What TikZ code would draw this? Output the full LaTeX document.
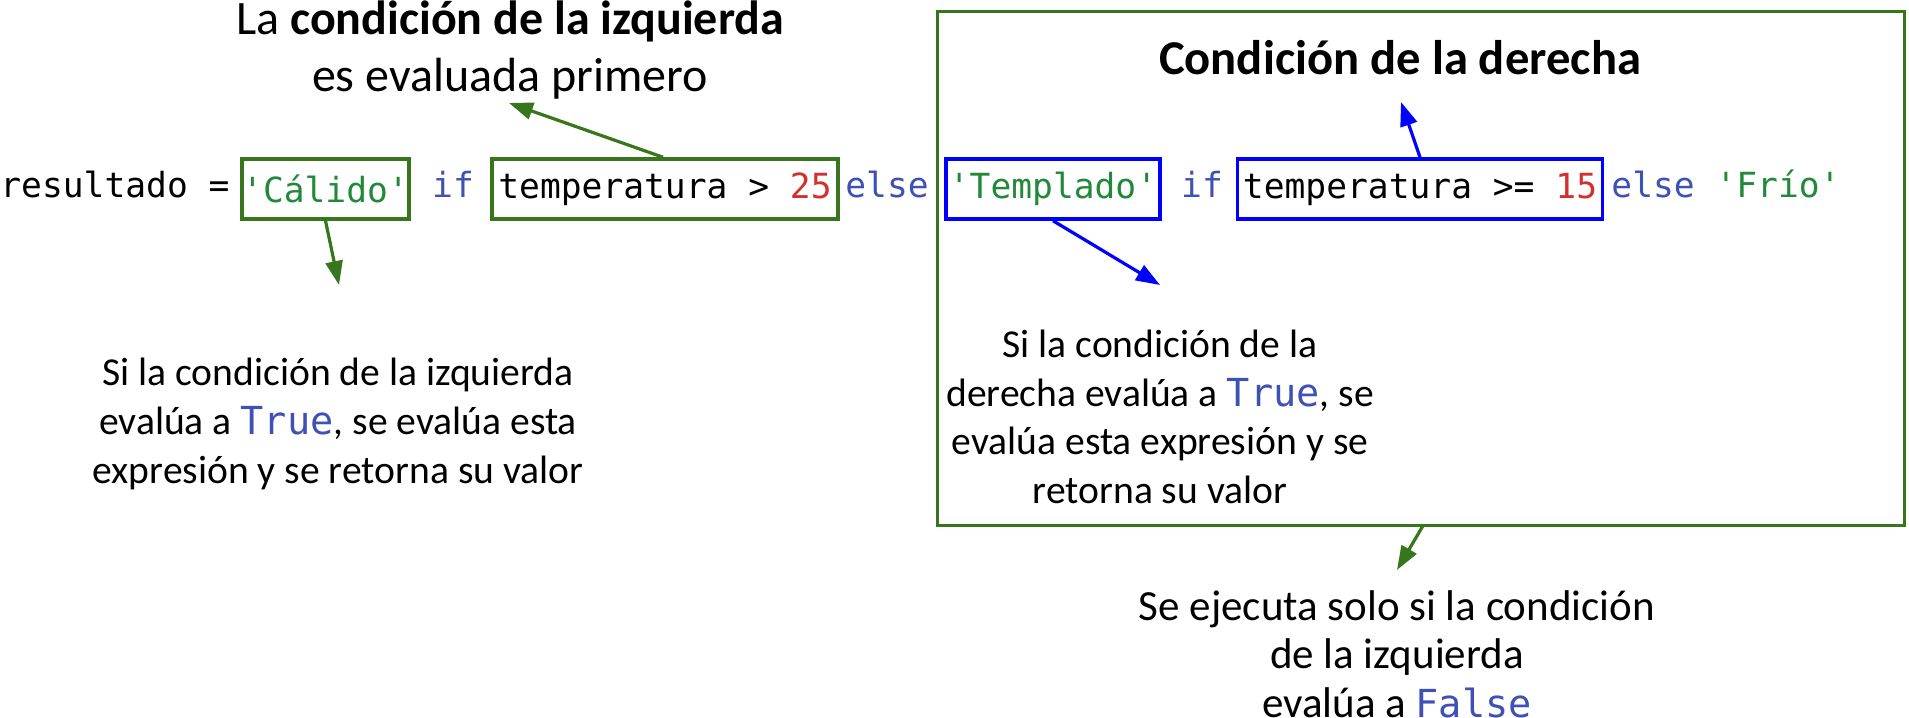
\documentclass[tikz,border=0pt]{standalone}
\usepackage{fontspec}
\setmainfont{Carlito}
\setmonofont{DejaVu Sans Mono}
\usetikzlibrary{arrows.meta}
\definecolor{boxgreen}{HTML}{38761D}
\definecolor{boxblue}{HTML}{0000FF}
\definecolor{strgreen}{HTML}{22883A}
\definecolor{kwblue}{HTML}{3F51B5}
\definecolor{numred}{HTML}{D32F2F}
\newcommand{\codefont}{\ttfamily\fontsize{17.3}{20}\selectfont}
\newcommand{\kw}[1]{\textcolor{kwblue}{#1}}
\newcommand{\str}[1]{\textcolor{strgreen}{#1}}
\newcommand{\num}[1]{\textcolor{numred}{#1}}
\newcommand{\pyval}[1]{{\ttfamily\fontsize{19.3}{20}\selectfont\textcolor{kwblue}{#1}}}
\tikzset{
  codetxt/.style={font=\codefont, inner sep=0pt, anchor=base},
  gbox/.style={draw=boxgreen, line width=1.75pt, minimum height=30pt, inner sep=0pt, font=\codefont},
  bbox/.style={draw=boxblue, line width=1.75pt, minimum height=30pt, inner sep=0pt, font=\codefont},
  garrow/.style={draw=boxgreen, line width=1.6pt, -{Triangle[length=12pt,width=8.5pt]}},
  barrow/.style={draw=boxblue, line width=1.6pt, -{Triangle[length=12pt,width=8.5pt]}},
  prose/.style={align=center, inner sep=0pt, font=\fontsize{19.8}{24.3}\selectfont},
}
\begin{document}
\begin{tikzpicture}[x=0.5pt,y=-0.5pt]
\useasboundingbox (0,0) rectangle (1909,717);
% big outer box
\node[draw=boxgreen, line width=1.5pt, minimum width=483.5pt, minimum height=256.5pt, inner sep=0pt] (bigbox) at (1420.5,268.5) {};
% code line
\node[codetxt, anchor=base west] (res) at (0,197) {resultado =};
\node[gbox, minimum width=82.5pt] (calido) at (325.5,189) {\str{'Cálido'}};
\node[codetxt] (if1) at (453,197) {\kw{if}};
\node[gbox, minimum width=173pt] (temp1) at (665,189) {temperatura > \num{25}};
\node[codetxt] (else1) at (887,197) {\kw{else}};
\node[bbox, minimum width=107pt] (templado) at (1053,189) {\str{'Templado'}};
\node[codetxt] (if2) at (1202,197) {\kw{if}};
\node[bbox, minimum width=182.5pt] (temp2) at (1420,189) {temperatura >= \num{15}};
\node[codetxt, anchor=base west] (else2) at (1611,197) {\kw{else} \str{'Frío'}};
% titles
\node[align=center, inner sep=0pt, font=\fontsize{24}{28.5}\selectfont] (title1) at (510,50) {La \textbf{condición de la izquierda}\\es evaluada primero};
\node[inner sep=0pt, anchor=base, font=\fontsize{24.3}{28}\selectfont\bfseries] (title2) at (1400,75) {Condición de la derecha};
% explanatory texts
\node[prose] (txtleft) at (338,424) {Si la condición de la izquierda\\evalúa a \pyval{True}, se evalúa esta\\expresión y se retorna su valor};
\node[prose] (txtright) at (1160,417) {Si la condición de la\\derecha evalúa a \pyval{True}, se\\evalúa esta expresión y se\\retorna su valor};
\node[prose, font=\fontsize{21.5}{24.3}\selectfont] (txtbottom) at (1397,654) {Se ejecuta solo si la condición\\de la izquierda\\evalúa a \pyval{False}};
% arrow end points
\coordinate (e1) at (509,103);
\coordinate (e2) at (339,285);
\coordinate (e3) at (1401,102);
\coordinate (e4) at (1160,285);
\coordinate (e5) at (1397,570);
% connectors
\draw[garrow] ([xshift=-1pt]temp1.north) -- (e1);
\draw[garrow] (calido.south) -- (e2);
\draw[barrow] (temp2.north) -- (e3);
\draw[barrow] (templado.south) -- (e4);
\draw[garrow] ([xshift=1pt]bigbox.south) -- (e5);
\end{tikzpicture}
\end{document}
